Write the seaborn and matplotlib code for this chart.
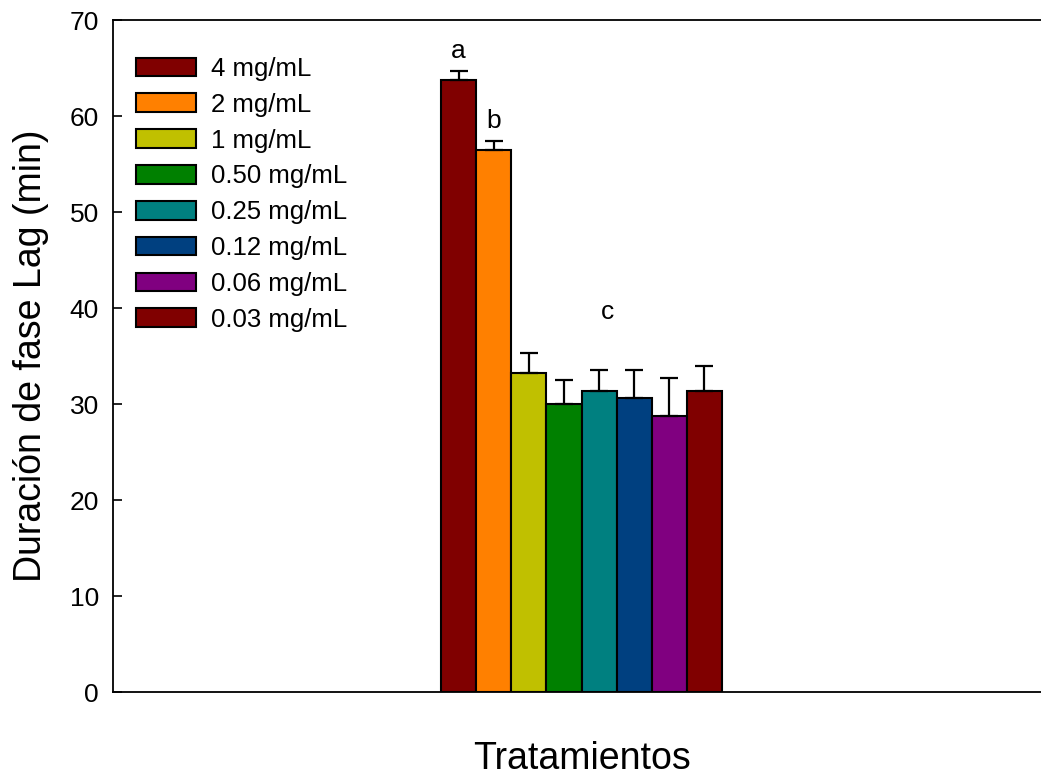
import seaborn as sns
import matplotlib.pyplot as plt
import pandas as pd
import numpy as np

# data
concentrations = ['4 mg/mL', '2 mg/mL', '1 mg/mL', '0.50 mg/mL', '0.25 mg/mL',
                  '0.12 mg/mL', '0.06 mg/mL', '0.03 mg/mL']
lag_means = [63.8, 56.5, 33.2, 30.0, 31.4, 30.6, 28.8, 31.4]
lag_errors = [0.9, 0.9, 2.1, 2.5, 2.1, 2.9, 3.9, 2.6]
letters = ['a', 'b', '', '', 'c', '', '', '']
bar_colors = ['#800000', '#FF8000', '#C0C000', '#008000', '#008080',
              '#004080', '#800080', '#800000']

df = pd.DataFrame({'grupo': ['Tratamientos'] * len(concentrations),
                   'conc': concentrations,
                   'lag': lag_means})

sns.set_style('white')
plt.rcParams['font.family'] = ['Liberation Sans', 'DejaVu Sans']
plt.rcParams['text.color'] = 'black'
plt.rcParams['axes.labelcolor'] = 'black'
plt.rcParams['ytick.color'] = 'black'

fig = plt.figure(figsize=(10.41, 7.78), dpi=100)
W, H = 1041, 778
ax = fig.add_axes([113 / W, 1 - 692 / H, (1050 - 113) / W, 672 / H])

sns.barplot(data=df, x='grupo', y='lag', hue='conc', hue_order=concentrations,
            palette=bar_colors, saturation=1, edgecolor='black', linewidth=1.5,
            errorbar=None, width=0.8, ax=ax)

# one-sided error bars and letters
bar_containers = list(ax.containers)
for i, cont in enumerate(bar_containers):
    p = cont.patches[0]
    xc = p.get_x() + p.get_width() / 2
    ax.errorbar(xc, lag_means[i], yerr=[[0], [lag_errors[i]]], fmt='none',
                ecolor='black', elinewidth=1.6, capsize=6.8, capthick=1.6)
    if letters[i]:
        top = lag_means[i] + lag_errors[i]
        if letters[i] == 'c':
            top = max(m + e for m, e in zip(lag_means[2:], lag_errors[2:])) + 3.0
            ax.annotate(letters[i], (xc, top), xytext=(6, 0), textcoords='offset points',
                        ha='center', va='bottom', fontsize=19)
        else:
            ax.text(xc, top + 0.8, letters[i], ha='center', va='bottom', fontsize=19)

ax.set_xlim(-1.335, 1.335)
ax.set_ylim(0, 70)
ax.set_yticks(range(0, 71, 10))
ax.set_xticks([])
ax.tick_params(axis='y', direction='in', length=6.5, width=1.2, pad=10,
               labelsize=19, left=True)
for s in ['left', 'top', 'bottom']:
    ax.spines[s].set_color('black')
    ax.spines[s].set_linewidth(1.3)
ax.spines['right'].set_visible(False)

ax.set_xlabel('Tratamientos', fontsize=27, labelpad=35)
ax.set_ylabel('Duración de fase Lag (min)', fontsize=27, labelpad=15)

handles, labels = ax.get_legend_handles_labels()
ax.legend(handles, labels, loc='upper left', bbox_to_anchor=(0.0245, 0.945),
          frameon=False, fontsize=18.5, handlelength=2.35, handleheight=0.74,
          labelspacing=0.46, handletextpad=0.58, borderaxespad=0, borderpad=0)

plt.savefig('out.png', dpi=100)
